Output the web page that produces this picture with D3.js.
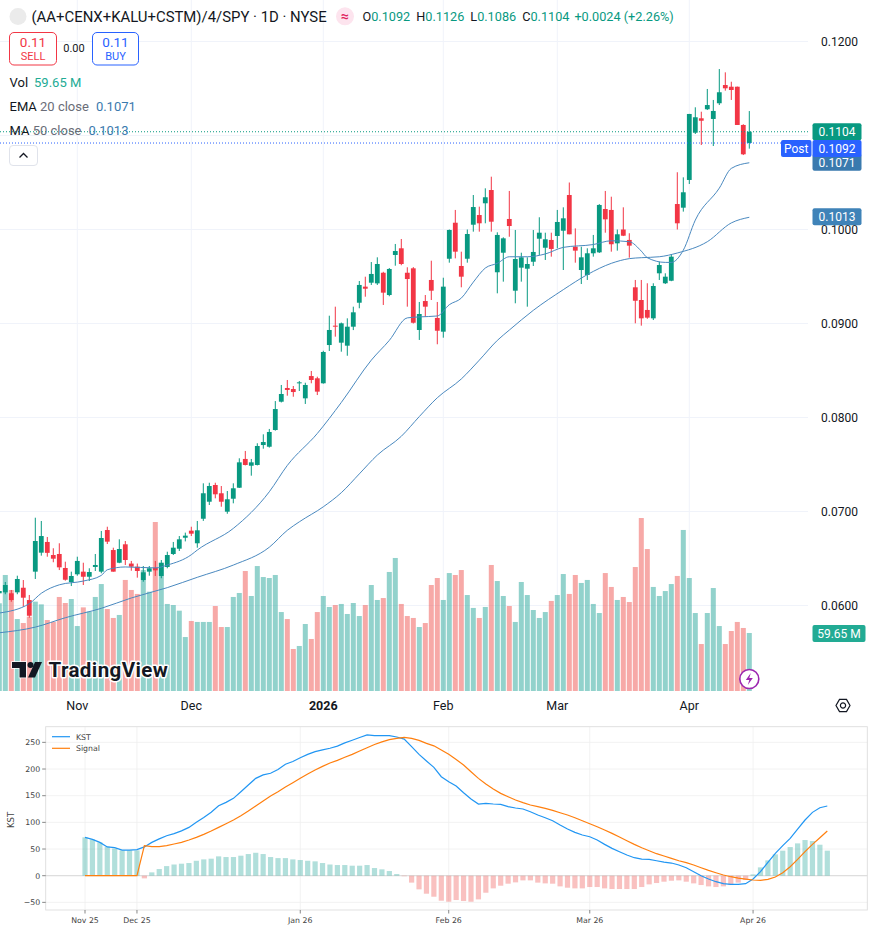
<!DOCTYPE html>
<html><head><meta charset="utf-8">
<script src="https://cdn.jsdelivr.net/npm/d3@7/dist/d3.min.js"></script>
<style>
html,body{margin:0;padding:0;background:#fff;}
svg{display:block;}
</style></head><body>
<svg id="c" width="874" height="932"></svg>
<script>
// ---------- main chart data (daily bars, index 0..125) ----------
const opens = [0.06130,0.06140,0.06130,0.06140,0.06189,0.06058,0.06360,0.06562,0.06676,0.06537,
0.06548,0.06399,0.06250,0.06332,0.06360,0.06306,0.06410,0.06360,0.06803,0.06590,
0.06455,0.06651,0.06446,0.06413,0.06271,0.06360,0.06402,0.06314,0.06410,0.06548,
0.06604,0.06721,0.06796,0.06662,0.06923,0.07104,0.07282,0.07194,0.06998,0.07136,
0.07253,0.07559,0.07487,0.07495,0.07707,0.07689,0.07867,0.08168,0.08314,0.08303,
0.08364,0.08204,0.08441,0.08417,0.08364,0.08771,0.08977,0.08796,0.08764,0.08966,
0.09221,0.09392,0.09434,0.09427,0.09540,0.09303,0.09729,0.09800,0.09540,0.09587,
0.08931,0.09239,0.09463,0.09059,0.08913,0.09689,0.10072,0.09612,0.09689,0.10051,
0.10154,0.10279,0.10420,0.09545,0.09753,0.10112,0.09349,0.09594,0.09583,0.09657,
0.09902,0.09806,0.09889,0.09931,0.09987,0.10367,0.09817,0.09569,0.09516,0.09747,
0.09757,0.10218,0.10208,0.09853,0.10000,0.09889,0.09385,0.09250,0.09144,0.09055,
0.09534,0.09428,0.09455,0.10271,0.10232,0.10527,0.11030,0.11183,0.11279,0.11176,
0.11343,0.11537,0.11519,0.11519,0.11112,0.10920];
const highs = [0.06180,0.06250,0.06165,0.06317,0.06271,0.06112,0.06934,0.06899,0.06729,0.06609,
0.06662,0.06466,0.06360,0.06519,0.06455,0.06396,0.06548,0.06793,0.06838,0.06615,
0.06704,0.06686,0.06474,0.06446,0.06420,0.06420,0.06474,0.06484,0.06572,0.06676,
0.06739,0.06775,0.06838,0.06899,0.07300,0.07306,0.07306,0.07271,0.07218,0.07300,
0.07566,0.07644,0.07559,0.07726,0.07821,0.07878,0.08175,0.08346,0.08399,0.08335,
0.08388,0.08370,0.08495,0.08434,0.08710,0.09083,0.09179,0.09010,0.09055,0.09179,
0.09452,0.09498,0.09654,0.09704,0.09550,0.09590,0.09846,0.09899,0.09598,0.09600,
0.09229,0.09303,0.09668,0.09229,0.09487,0.10000,0.10208,0.09764,0.10000,0.10367,
0.10243,0.10438,0.10562,0.09970,0.09917,0.10410,0.09995,0.09753,0.09704,0.09995,
0.10130,0.09966,0.09966,0.10208,0.10236,0.10500,0.10012,0.09817,0.09800,0.09942,
0.10270,0.10410,0.10349,0.10000,0.10236,0.09960,0.09463,0.09463,0.09428,0.09428,
0.09657,0.09534,0.09739,0.10609,0.10555,0.11230,0.11300,0.11253,0.11495,0.11378,
0.11707,0.11672,0.11572,0.11520,0.11120,0.11260];
const lows = [0.06110,0.06120,0.06040,0.06120,0.05987,0.05870,0.06282,0.06530,0.06519,0.06460,
0.06377,0.06264,0.06207,0.06317,0.06218,0.06261,0.06367,0.06343,0.06654,0.06360,
0.06450,0.06431,0.06370,0.06296,0.06253,0.06317,0.06314,0.06290,0.06396,0.06537,
0.06580,0.06682,0.06739,0.06615,0.06900,0.07069,0.07140,0.07051,0.06976,0.07087,
0.07250,0.07490,0.07381,0.07490,0.07668,0.07680,0.07860,0.08160,0.08232,0.08221,
0.08282,0.08144,0.08364,0.08239,0.08360,0.08708,0.08860,0.08700,0.08657,0.08930,
0.09162,0.09285,0.09410,0.09410,0.09197,0.09290,0.09615,0.09620,0.09179,0.09000,
0.08825,0.09072,0.09250,0.08779,0.08849,0.09647,0.09693,0.09385,0.09647,0.09977,
0.09977,0.10066,0.09977,0.09321,0.09445,0.09923,0.09215,0.09445,0.09179,0.09612,
0.09729,0.09676,0.09711,0.09800,0.09569,0.09949,0.09647,0.09420,0.09463,0.09711,
0.09750,0.09966,0.09764,0.09775,0.09930,0.09700,0.09002,0.08977,0.09050,0.09037,
0.09463,0.09420,0.09450,0.10000,0.10190,0.10484,0.11016,0.10899,0.11271,0.10888,
0.11324,0.11477,0.11378,0.11112,0.10792,0.10860];
const closes = [0.06154,0.06218,0.06058,0.06282,0.06083,0.05891,0.06686,0.06739,0.06560,0.06498,
0.06406,0.06274,0.06314,0.06474,0.06306,0.06356,0.06431,0.06718,0.06679,0.06360,
0.06601,0.06484,0.06413,0.06367,0.06353,0.06396,0.06374,0.06452,0.06537,0.06615,
0.06704,0.06743,0.06764,0.06800,0.07194,0.07271,0.07183,0.07104,0.07130,0.07247,
0.07523,0.07495,0.07523,0.07697,0.07739,0.07846,0.08090,0.08250,0.08293,0.08271,
0.08374,0.08346,0.08399,0.08275,0.08697,0.08931,0.08966,0.09002,0.08966,0.09119,
0.09410,0.09370,0.09527,0.09633,0.09328,0.09580,0.09771,0.09633,0.09473,0.09008,
0.09101,0.09179,0.09349,0.08923,0.09392,0.09995,0.09764,0.09498,0.09952,0.10239,
0.10066,0.10343,0.10083,0.09942,0.09906,0.10037,0.09686,0.09704,0.09633,0.09761,
0.09966,0.09896,0.09793,0.10080,0.10119,0.09949,0.09775,0.09704,0.09747,0.09800,
0.10261,0.10108,0.09843,0.09949,0.09934,0.09828,0.09242,0.09055,0.09062,0.09399,
0.09622,0.09498,0.09711,0.10066,0.10396,0.11229,0.11194,0.11157,0.11324,0.11261,
0.11460,0.11502,0.11484,0.11112,0.10800,0.11040];
// volume in millions
const volumes = [90.2,119.3,103.9,74.0,69.9,76.4,91.9,89.1,73.0,71.0,
96.7,90.5,94.6,66.8,86.0,81.6,96.7,110.0,84.3,75.1,
78.2,114.2,103.9,99.8,124.4,102.1,173.8,132.3,89.5,88.4,
82.6,55.5,72.0,71.0,71.0,71.0,87.4,65.8,65.8,96.7,
100.8,123.4,97.7,128.5,117.2,116.2,119.3,81.2,74.0,43.2,
46.3,68.9,53.5,81.2,97.7,86.4,88.4,89.5,79.2,90.5,
77.1,88.4,109.0,93.6,95.6,122.4,136.8,89.5,77.1,75.1,
65.8,69.9,109.0,116.2,93.6,121.3,119.3,124.4,98.7,85.4,
75.1,86.4,129.6,113.1,97.7,87.4,71.0,112.1,98.7,83.3,
75.1,81.2,92.6,98.7,120.3,99.8,119.3,111.1,114.2,89.5,
80.2,121.3,107.0,93.6,96.7,91.5,127.5,177.9,146.0,107.0,
97.7,102.8,110.0,118.3,165.6,116.2,80.2,48.3,80.2,105.9,
66.8,48.3,61.7,71.0,64.8,59.65];
// EMA 20 and MA 50 at sample bars
const emaIdx = [0,5,7,10,14,17,18,21,26,28,32,33,39,45,48,53,57,62,65,68,70,73,75,77,79,81,83,85,88,91,94,99,102,105,107,108,111,112,114,116,120,122,125];
const emaVal = [0.0592,0.0602,0.0613,0.0622,0.0626,0.0632,0.0638,0.0641,0.0640,0.0643,0.0654,0.0659,0.0682,0.0721,0.0749,0.0783,0.0816,0.0861,0.0882,0.0906,0.0907,0.0908,0.0920,0.0927,0.0944,0.0959,0.0964,0.0971,0.0971,0.0974,0.0981,0.0984,0.0988,0.0987,0.0977,0.0970,0.0965,0.0965,0.0978,0.1010,0.1044,0.1065,0.1071];
const maIdx = [0,6,11,17,22,28,33,39,45,48,50,54,57,60,63,67,70,73,77,80,83,85,89,94,98,102,105,107,110,113,118,122,125];
const maVal = [0.0571,0.0577,0.0587,0.0597,0.0608,0.0619,0.0630,0.0643,0.0662,0.0680,0.0689,0.0705,0.0720,0.0740,0.0760,0.0780,0.0801,0.0821,0.0841,0.0861,0.0882,0.0893,0.0914,0.0936,0.0952,0.0964,0.0969,0.0970,0.0971,0.0975,0.0987,0.1007,0.1013];
const monthIdx = [13,32,54,74,93,115];
const monthLabels = ["Nov","Dec","2026","Feb","Mar","Apr"];
const priceTicks = [0.06,0.07,0.08,0.09,0.10,0.11,0.12];
const priceTickLabels = ["0.0600","0.0700","0.0800","0.0900","0.1000","","0.1200"]; // 0.1100 is hidden behind the price tags
const lastClose = 0.1104, postPrice = 0.1092, emaLast = 0.1071, maLast = 0.1013, volLast = 59.65;

// ---------- KST panel data (101 bars) ----------
const kst = [71.9,68,62.5,54,52.5,48,48,49,54,62.5,
69,75,79,84,90.6,100,109,119,131,137.5,
145,157.5,170,182.5,189,192,199,209,214,221,
227.5,232.5,236,239,243,249,254,259,264,262.5,
262.5,262.5,260,256,242,227.5,215,203,185.6,176,
168,155.6,143.75,134.4,135.6,134.4,133.75,129.4,126.9,125,
120,113.75,108.75,103,95,87.5,81.25,76.25,73,67,
58.75,51.25,45,38.75,33.75,31.25,30.6,28,25.6,23.75,
20,15,7.5,0,-6.25,-11.25,-15,-16.25,-16.25,-15,
-6.25,7.5,25,41.9,56.25,70,87.5,104.4,118.75,127.5,130.6];
const signal = [0,0,0,0,0,0,0,0,56.25,54.4,
54.4,56.25,59.4,62.5,66.9,71.9,77.5,83.75,90.6,97.5,
104.4,112.5,121.25,130.6,140,149.4,157.5,166.25,174.4,182.5,
190.6,198,205,211.25,216.25,222,227.5,233.75,240,246,
251,255,257.5,259.4,257.5,253.75,248,243.5,235.6,227.5,
218,207.5,195,182.5,171.9,162.5,154.4,148,141.9,136.9,
132.5,129.4,126.25,122.5,118,113.75,108.75,103,97.5,91.9,
85.6,79.4,72.5,65.6,58.75,52.5,46.9,41.25,36.9,32.5,
28,24.4,20,15,10,5.6,1.25,-1.9,-4.4,-6.25,
-8.1,-8.75,-6.9,-2.5,5.6,16.9,30.6,45,58.75,71.25,83.75];
const hist = [71.9,68,62.5,54.4,51,47.5,47.5,47.5,-5,6.25,
12.5,18,21,22.5,23.75,28,30.6,31.9,36.25,35,
35,37.5,40.6,43,40.6,35,33,33,30.6,29.4,
28,26.9,23.75,21,20,20,18.75,18.75,20,14.4,
11.9,8.75,3.1,-1,-13,-25.6,-33.75,-39.4,-46.9,-48.75,
-45.6,-47.5,-48.75,-44.4,-31.9,-23.75,-18.75,-15,-12.5,-8.75,
-8.75,-13,-14.4,-15,-20,-22.5,-23.75,-23.75,-21.25,-21.25,
-23.75,-25,-25,-25,-25,-21.25,-16.25,-13.75,-11.25,-9.4,
-8.75,-11.25,-14.4,-17.5,-20,-21.25,-20,-17.5,-13,-8.1,
2.5,15.6,28.75,40,46.9,53.75,60.6,66.9,65,58.1,46.9];
const kstTickIdx = [0,7,29,49,68,90];
const kstTickLabels = ["Nov 25","Dec 25","Jan 26","Feb 26","Mar 26","Apr 26"];
const kstYTicks = [-50,0,50,100,150,200,250];

// ---------- drawing ----------
const svg = d3.select("#c");
const TV = "Roboto, 'Noto Sans', sans-serif";
const MPL = "'DejaVu Sans', sans-serif";
const UP = "#089981", DN = "#f23645";
const paneR = 808, paneB = 691;

const x = d3.scaleLinear().domain([0,125]).range([-0.7, 749.3]);
const y = d3.scaleLinear().domain([0.06,0.12]).range([605.5, 41.5]);
const yv = d3.scaleLinear().domain([0,180]).range([paneB, paneB-175.03]);

svg.append("defs").append("clipPath").attr("id","pane")
  .append("rect").attr("x",0).attr("y",0).attr("width",paneR).attr("height",paneB);

const pane = svg.append("g").attr("clip-path","url(#pane)");
// grid
pane.selectAll("line.hg").data(priceTicks).join("line")
  .attr("x1",0).attr("x2",paneR).attr("y1",d=>y(d)).attr("y2",d=>y(d))
  .attr("stroke","#f0f3fa").attr("stroke-width",1);
pane.selectAll("line.vg").data(monthIdx).join("line")
  .attr("x1",d=>x(d)).attr("x2",d=>x(d)).attr("y1",0).attr("y2",paneB)
  .attr("stroke","#f0f3fa").attr("stroke-width",1);

const idx = d3.range(opens.length);
// volume
pane.selectAll("rect.vol").data(idx).join("rect")
  .attr("x",i=>x(i)-2.5).attr("width",5)
  .attr("y",i=>yv(volumes[i])).attr("height",i=>paneB-yv(volumes[i]))
  .attr("fill",i=>closes[i]>=opens[i]?"rgba(38,166,154,0.5)":"rgba(239,83,80,0.5)");

// TradingView watermark logo
const logo = pane.append("g");
logo.append("path").attr("d","M12,662 H26 V677.5 H19.5 V668 H12 Z").attr("fill","#131722")
  .attr("stroke","#fff").attr("stroke-width",1.5).attr("paint-order","stroke");
logo.append("circle").attr("cx",30.5).attr("cy",665).attr("r",3).attr("fill","#131722");
logo.append("path").attr("d","M35,662 H42 L35,677.5 H28 Z").attr("fill","#131722");
logo.append("text").attr("x",48.5).attr("y",676.5).text("TradingView")
  .attr("font-family",TV).attr("font-weight",700).attr("font-size",20.5).attr("letter-spacing",0.4)
  .attr("fill","#131722").attr("stroke","#fff").attr("stroke-width",3)
  .attr("paint-order","stroke").attr("stroke-linejoin","round");

// candles
const cg = pane.append("g");
cg.selectAll("line.wick").data(idx).join("line")
  .attr("x1",i=>x(i)).attr("x2",i=>x(i))
  .attr("y1",i=>y(highs[i])).attr("y2",i=>y(lows[i]))
  .attr("stroke",i=>closes[i]>=opens[i]?UP:DN).attr("stroke-width",1);
cg.selectAll("rect.body").data(idx).join("rect")
  .attr("x",i=>x(i)-2.4).attr("width",4.8)
  .attr("y",i=>y(Math.max(opens[i],closes[i])))
  .attr("height",i=>Math.max(1,y(Math.min(opens[i],closes[i]))-y(Math.max(opens[i],closes[i]))))
  .attr("fill",i=>closes[i]>=opens[i]?UP:DN);

// EMA / MA lines
const ln = (ix,vals)=>d3.line().x((d,k)=>x(ix[k])).y(d=>y(d)).curve(d3.curveMonotoneX)(vals);
pane.append("path").attr("d",ln(maIdx,maVal)).attr("fill","none").attr("stroke","#4a89bf").attr("stroke-width",1);
pane.append("path").attr("d",ln(emaIdx,emaVal)).attr("fill","none").attr("stroke","#4a89bf").attr("stroke-width",1);

// price lines
pane.append("line").attr("x1",0).attr("x2",paneR).attr("y1",y(lastClose)).attr("y2",y(lastClose))
  .attr("stroke",UP).attr("stroke-width",1).attr("stroke-dasharray","1,2");
pane.append("line").attr("x1",0).attr("x2",paneR).attr("y1",y(postPrice)).attr("y2",y(postPrice))
  .attr("stroke","#2962ff").attr("stroke-width",1).attr("stroke-dasharray","1,2");

// lightning icon
const li = svg.append("g").attr("transform","translate(749.3,679)");
li.append("circle").attr("r",9.5).attr("fill","#fff").attr("stroke","#9c27b0").attr("stroke-width",1.6);
li.append("path").attr("d","M1.5,-6 L-3.5,1 H0 L-1.5,6 L3.5,-1 H0 Z").attr("fill","#9c27b0");

// price axis labels
const pa = svg.append("g").attr("font-family",TV).attr("font-size",12);
pa.selectAll("text").data(priceTicks).join("text")
  .attr("x",821).attr("y",d=>y(d)+4.3).text((d,k)=>priceTickLabels[k]).attr("fill","#131722");
function tag(xx, yy, w, txt, fill){
  pa.append("rect").attr("x",xx).attr("y",yy-8.5).attr("width",w).attr("height",17).attr("rx",2).attr("fill",fill);
  pa.append("text").attr("x",xx+w/2).attr("y",yy+4.3).attr("text-anchor","middle").attr("fill","#fff").text(txt);
}
tag(812.5, y(maLast)-0.5, 49, maLast.toFixed(4), "#3f83b8");
tag(812.5, y(emaLast)-0.5, 49, emaLast.toFixed(4), "#3a7aae");
tag(812.5, y(lastClose), 49, lastClose.toFixed(4), UP);
tag(812.5, y(postPrice)+5.5, 49, postPrice.toFixed(4), "#2962ff");
tag(781, y(postPrice)+5.5, 30.5, "Post", "#2962ff");
tag(812.5, yv(volLast)+0.5, 53, volLast.toFixed(2)+" M", "#22ab94");

// time axis labels
const ta = svg.append("g").attr("font-family",TV).attr("font-size",12.5).attr("fill","#131722");
ta.selectAll("text").data(monthIdx).join("text")
  .attr("x",d=>x(d)).attr("y",709.5).attr("text-anchor","middle")
  .attr("font-weight",(d,k)=>monthLabels[k]==="2026"?700:400)
  .text((d,k)=>monthLabels[k]);
// settings icon
const si = svg.append("g").attr("transform","translate(843,705.5)");
si.append("path").attr("d",d3.range(6).map(k=>{const a=Math.PI/3*k; return (k?"L":"M")+(7*Math.cos(a)).toFixed(2)+","+(7*Math.sin(a)).toFixed(2);}).join("")+"Z")
  .attr("fill","none").attr("stroke","#131722").attr("stroke-width",1.2);
si.append("circle").attr("r",2.6).attr("fill","none").attr("stroke","#131722").attr("stroke-width",1.2);

// header
const hd = svg.append("g").attr("font-family",TV);
hd.append("circle").attr("cx",18).attr("cy",16.5).attr("r",8.5).attr("fill","#ebebeb");
hd.append("text").attr("x",31.5).attr("y",22).attr("font-size",14.9).attr("fill","#131722")
  .text("(AA+CENX+KALU+CSTM)/4/SPY · 1D · NYSE");
hd.append("circle").attr("cx",345).attr("cy",16.3).attr("r",9).attr("fill","#fde4ee");
hd.append("text").attr("x",345).attr("y",21).attr("text-anchor","middle").attr("font-size",14)
  .attr("font-weight",700).attr("fill","#e0255f").text("≈");
const ohlc = hd.append("text").attr("x",362.5).attr("y",21).attr("font-size",12.7);
[["O","0.1092",0],["H","0.1126",6],["L","0.1086",6],["C","0.1104",6]].forEach(([k,v,dx])=>{
  ohlc.append("tspan").attr("dx",dx).attr("fill","#131722").text(k);
  ohlc.append("tspan").attr("fill",UP).text(v);
});
ohlc.append("tspan").attr("dx",5).attr("fill",UP).text("+0.0024 (+2.26%)");

// sell / buy boxes
hd.append("rect").attr("x",9.5).attr("y",32.5).attr("width",47).attr("height",32.5).attr("rx",4.5)
  .attr("fill","#fff").attr("stroke",DN).attr("stroke-width",1);
hd.append("text").attr("x",33).attr("y",46.5).attr("text-anchor","middle").attr("font-size",13.5).attr("fill",DN).text("0.11");
hd.append("text").attr("x",33).attr("y",60).attr("text-anchor","middle").attr("font-size",11).attr("fill",DN).text("SELL");
hd.append("text").attr("x",74).attr("y",52).attr("text-anchor","middle").attr("font-size",11).attr("fill","#131722").text("0.00");
hd.append("rect").attr("x",92.5).attr("y",32.5).attr("width",46).attr("height",32.5).attr("rx",4.5)
  .attr("fill","#fff").attr("stroke","#2962ff").attr("stroke-width",1);
hd.append("text").attr("x",115.5).attr("y",46.5).attr("text-anchor","middle").attr("font-size",13.5).attr("fill","#2962ff").text("0.11");
hd.append("text").attr("x",115.5).attr("y",60).attr("text-anchor","middle").attr("font-size",11).attr("fill","#2962ff").text("BUY");

// legend rows
function row(yy, parts){
  const t = hd.append("text").attr("x",9.5).attr("y",yy).attr("font-size",13);
  parts.forEach(([s,c,dx])=>t.append("tspan").attr("dx",dx||0).attr("fill",c).text(s));
}
row(87, [["Vol","#131722"],["59.65 M","#22ab94",6]]);
row(111, [["EMA","#131722"],[" 20 close","#6a6d78"],["0.1071","#3a7aae",7]]);
row(135, [["MA","#131722"],[" 50 close","#6a6d78"],["0.1013","#3a7aae",7]]);
hd.append("rect").attr("x",9.5).attr("y",145.5).attr("width",28).attr("height",20).attr("rx",3.5)
  .attr("fill","#fff").attr("stroke","#e0e3eb");
hd.append("path").attr("d","M19.5,157.5 L23.5,153.5 L27.5,157.5").attr("fill","none").attr("stroke","#131722").attr("stroke-width",1.3);

// ---------- KST panel ----------
const kL = 45.7, kR = 867.3, kT = 726.7, kB = 910;
const kx = d3.scaleLinear().domain([0,100]).range([85, 827.3]);
const ky = d3.scaleLinear().domain([0,250]).range([875.7, 742.35]);
const kp = svg.append("g");
kp.append("rect").attr("x",kL).attr("y",kT).attr("width",kR-kL).attr("height",kB-kT).attr("fill","#fff");
kp.selectAll("line.kyg").data(kstYTicks).join("line")
  .attr("x1",kL).attr("x2",kR).attr("y1",d=>ky(d)).attr("y2",d=>ky(d)).attr("stroke","#efefef").attr("stroke-width",0.8);
kp.selectAll("line.kxg").data(kstTickIdx).join("line")
  .attr("x1",d=>kx(d)).attr("x2",d=>kx(d)).attr("y1",kT).attr("y2",kB).attr("stroke","#efefef").attr("stroke-width",0.8);
kp.append("line").attr("x1",kL).attr("x2",kR).attr("y1",ky(0)).attr("y2",ky(0)).attr("stroke","#cfcfcf").attr("stroke-width",0.8);
const kidx = d3.range(hist.length);
kp.selectAll("rect.h").data(kidx).join("rect")
  .attr("x",j=>kx(j)-2.6).attr("width",5.2)
  .attr("y",j=>Math.min(ky(hist[j]),ky(0))).attr("height",j=>Math.abs(ky(hist[j])-ky(0)))
  .attr("fill",j=>hist[j]>=0?"rgba(38,166,154,0.36)":"rgba(239,83,80,0.36)");
const kline = d3.line().x((d,j)=>kx(j)).y(d=>ky(d));
kp.append("path").attr("d",kline(kst)).attr("fill","none").attr("stroke","#2196f3").attr("stroke-width",1.2);
kp.append("path").attr("d",kline(signal)).attr("fill","none").attr("stroke","#ff7f0e").attr("stroke-width",1.2);
kp.append("rect").attr("x",kL).attr("y",kT).attr("width",kR-kL).attr("height",kB-kT)
  .attr("fill","none").attr("stroke","#dddddd").attr("stroke-width",0.9);
// ticks
const kf = kp.append("g").attr("font-family",MPL).attr("font-size",7.8).attr("fill","#444");
kf.selectAll("line.yt").data(kstYTicks).join("line")
  .attr("x1",kL-3.5).attr("x2",kL).attr("y1",d=>ky(d)).attr("y2",d=>ky(d)).attr("stroke","#555").attr("stroke-width",0.7);
kf.selectAll("text.yl").data(kstYTicks).join("text")
  .attr("x",kL-5.5).attr("y",d=>ky(d)+2.8).attr("text-anchor","end").text(d=>d<0?"\u2212"+Math.abs(d):d);
kf.selectAll("line.xt").data(kstTickIdx).join("line")
  .attr("x1",d=>kx(d)).attr("x2",d=>kx(d)).attr("y1",kB).attr("y2",kB+3.5).attr("stroke","#555").attr("stroke-width",0.7);
kf.selectAll("text.xl").data(kstTickIdx).join("text")
  .attr("x",d=>kx(d)).attr("y",923).attr("text-anchor","middle").text((d,k)=>kstTickLabels[k]);
kf.append("text").attr("transform","translate(13.5,820) rotate(-90)").attr("text-anchor","middle")
  .attr("font-size",8.5).text("KST");
// legend
kf.append("line").attr("x1",52).attr("x2",70).attr("y1",736.7).attr("y2",736.7).attr("stroke","#2196f3").attr("stroke-width",1.2);
kf.append("text").attr("x",76).attr("y",739.6).text("KST");
kf.append("line").attr("x1",52).attr("x2",70).attr("y1",748.3).attr("y2",748.3).attr("stroke","#ff7f0e").attr("stroke-width",1.2);
kf.append("text").attr("x",76).attr("y",751.2).text("Signal");
</script>
</body></html>
